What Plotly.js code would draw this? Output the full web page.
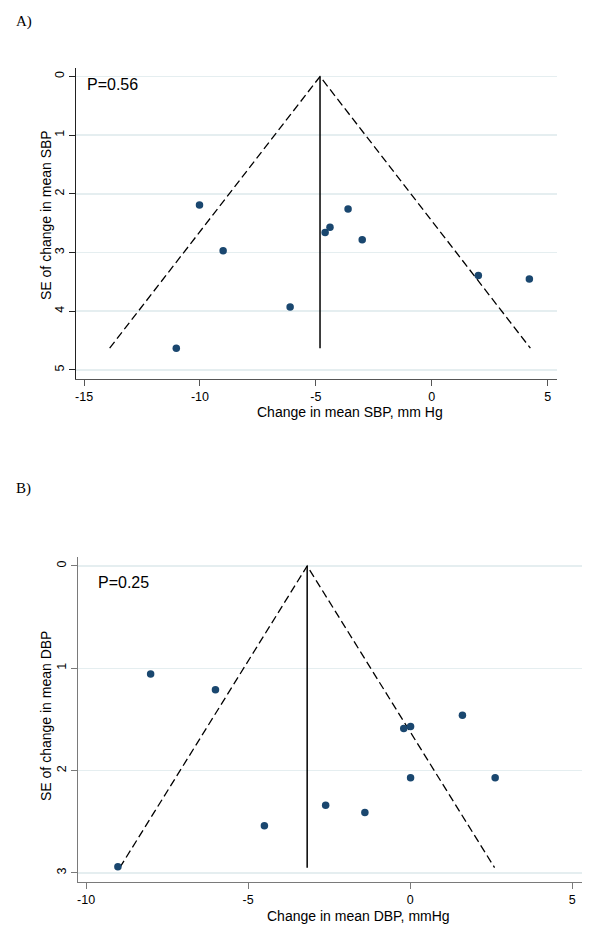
<!DOCTYPE html>
<html>
<head>
<meta charset="utf-8">
<script src="https://cdn.plot.ly/plotly-3.0.1.min.js"></script>
<style>
html,body{margin:0;padding:0;background:#fff;}
#chart{width:600px;height:948px;}
</style>
</head>
<body>
<div id="chart"></div>
<script>
// ---- Panel A: SBP ----
const sbpChange = [-10.02, -9.0, -11.02, -6.11, -4.60, -4.39, -3.61, -3.0, 2.01, 4.21];
const sbpSE     = [2.19, 2.97, 4.63, 3.93, 2.66, 2.57, 2.26, 2.78, 3.39, 3.45];
const sbpPooled = -4.82;
const sbpFunnelSE = [4.63, 0, 4.63];
const sbpTicksX = [-15, -10, -5, 0, 5];
const sbpTickLabelsX = ['-15', '-10', '-5', '0', '5'];
const sbpTicksY = [0, 1, 2, 3, 4, 5];
const sbpTickLabelsY = ['0', '1', '2', '3', '4', '5'];
const sbpP = "P=0.56";

// ---- Panel B: DBP ----
const dbpChange = [-8.01, -6.01, -0.20, 0.01, 1.61, 0.01, 2.62, -2.61, -1.40, -4.50, -9.02];
const dbpSE     = [1.055, 1.21, 1.59, 1.57, 1.46, 2.07, 2.07, 2.34, 2.41, 2.54, 2.94];
const dbpPooled = -3.18;
const dbpFunnelSE = [2.95, 0, 2.95];
const dbpTicksX = [-10, -5, 0, 5];
const dbpTickLabelsX = ['-10', '-5', '0', '5'];
const dbpTicksY = [0, 1, 2, 3];
const dbpTickLabelsY = ['0', '1', '2', '3'];
const dbpP = "P=0.25";

const z = 1.96;
const funnelX = (pooled, se) => se.map((s, i) => i === 0 ? pooled - z * s : pooled + z * s);

const W = 600, H = 948;
const navy = '#1a476f';
const narrow = 'Liberation Sans Narrow, Arial Narrow, Liberation Sans, Arial';
const tickFont = {family: narrow, size: 12.5, color: '#000'};
const titleFont = {family: narrow, size: 14, color: '#000'};
const gridColor = '#e5eef0';
const dash = {color: '#000', width: 1.3, dash: '8px,4px'};

const traces = [
  {x: funnelX(sbpPooled, sbpFunnelSE), y: sbpFunnelSE, xaxis: 'x', yaxis: 'y', mode: 'lines',
   line: dash, hoverinfo: 'skip'},
  {x: [sbpPooled, sbpPooled], y: [0, sbpFunnelSE[0]], xaxis: 'x', yaxis: 'y', mode: 'lines',
   line: {color: '#000', width: 1.5}, hoverinfo: 'skip'},
  {x: sbpChange, y: sbpSE, xaxis: 'x', yaxis: 'y', mode: 'markers',
   marker: {color: navy, size: 7.5}},
  {x: funnelX(dbpPooled, dbpFunnelSE), y: dbpFunnelSE, xaxis: 'x2', yaxis: 'y2', mode: 'lines',
   line: dash, hoverinfo: 'skip'},
  {x: [dbpPooled, dbpPooled], y: [0, dbpFunnelSE[0]], xaxis: 'x2', yaxis: 'y2', mode: 'lines',
   line: {color: '#000', width: 1.5}, hoverinfo: 'skip'},
  {x: dbpChange, y: dbpSE, xaxis: 'x2', yaxis: 'y2', mode: 'markers',
   marker: {color: navy, size: 7.5}}
];

const px = v => v / W;
const py = v => 1 - v / H;

const baseX = {showline: true, ticks: 'outside', ticklen: 6, tickwidth: 1, showgrid: false,
  zeroline: false, tickfont: tickFont, fixedrange: true, tickmode: 'array'};
const baseY = {showline: true, ticks: 'outside', ticklen: 6, tickwidth: 1, showgrid: true,
  gridcolor: gridColor, gridwidth: 1.5, zeroline: false, tickfont: tickFont, tickangle: -90,
  fixedrange: true, tickmode: 'array'};

const layout = {
  width: W, height: H,
  margin: {l: 0, r: 0, t: 0, b: 0},
  paper_bgcolor: '#fff', plot_bgcolor: '#fff',
  showlegend: false,
  xaxis: Object.assign({}, baseX, {domain: [px(75.7), px(556.7)], range: [-15.36, 5.39],
    tickvals: sbpTicksX, ticktext: sbpTickLabelsX, linecolor: '#555', tickcolor: '#555', anchor: 'y'}),
  yaxis: Object.assign({}, baseY, {domain: [py(378.7), py(67.7)], range: [5.15, -0.15],
    tickvals: sbpTicksY, ticktext: sbpTickLabelsY, linecolor: '#222', tickcolor: '#222', anchor: 'x'}),
  xaxis2: Object.assign({}, baseX, {domain: [px(77.7), px(581.7)], range: [-10.26, 5.29],
    tickvals: dbpTicksX, ticktext: dbpTickLabelsX, linecolor: '#7a7a7a', tickcolor: '#7a7a7a', anchor: 'y2'}),
  yaxis2: Object.assign({}, baseY, {domain: [py(882), py(557.3)], range: [3.09, -0.085],
    tickvals: dbpTicksY, ticktext: dbpTickLabelsY, linecolor: '#7a7a7a', tickcolor: '#7a7a7a', anchor: 'x2'}),
  annotations: [
    {text: 'A)', xref: 'paper', yref: 'paper', x: px(14), y: py(21), xanchor: 'left', yanchor: 'middle',
     showarrow: false, font: {family: 'Liberation Serif, Times New Roman, serif', size: 15, color: '#000'}},
    {text: 'B)', xref: 'paper', yref: 'paper', x: px(14), y: py(488), xanchor: 'left', yanchor: 'middle',
     showarrow: false, font: {family: 'Liberation Serif, Times New Roman, serif', size: 15, color: '#000'}},
    {text: sbpP, xref: 'paper', yref: 'paper', x: px(85), y: py(84), xanchor: 'left', yanchor: 'middle',
     showarrow: false, font: {family: 'Liberation Sans, Arial', size: 16, color: '#000'}},
    {text: dbpP, xref: 'paper', yref: 'paper', x: px(96), y: py(582.7), xanchor: 'left', yanchor: 'middle',
     showarrow: false, font: {family: 'Liberation Sans, Arial', size: 16, color: '#000'}},
    {text: 'Change in mean SBP, mm Hg', xref: 'paper', yref: 'paper', x: px(350), y: py(412),
     xanchor: 'center', yanchor: 'middle', showarrow: false, font: titleFont, borderpad: 0},
    {text: 'Change in mean DBP, mmHg', xref: 'paper', yref: 'paper', x: px(358), y: py(916),
     xanchor: 'center', yanchor: 'middle', showarrow: false, font: titleFont, borderpad: 0},
    {text: 'SE of change in mean SBP', xref: 'paper', yref: 'paper', x: px(46), y: py(215),
     xanchor: 'center', yanchor: 'middle', textangle: -90, showarrow: false, font: titleFont},
    {text: 'SE of change in mean DBP', xref: 'paper', yref: 'paper', x: px(46), y: py(716),
     xanchor: 'center', yanchor: 'middle', textangle: -90, showarrow: false, font: titleFont}
  ]
};

Plotly.newPlot('chart', traces, layout, {staticPlot: true, displayModeBar: false});
</script>
</body>
</html>
